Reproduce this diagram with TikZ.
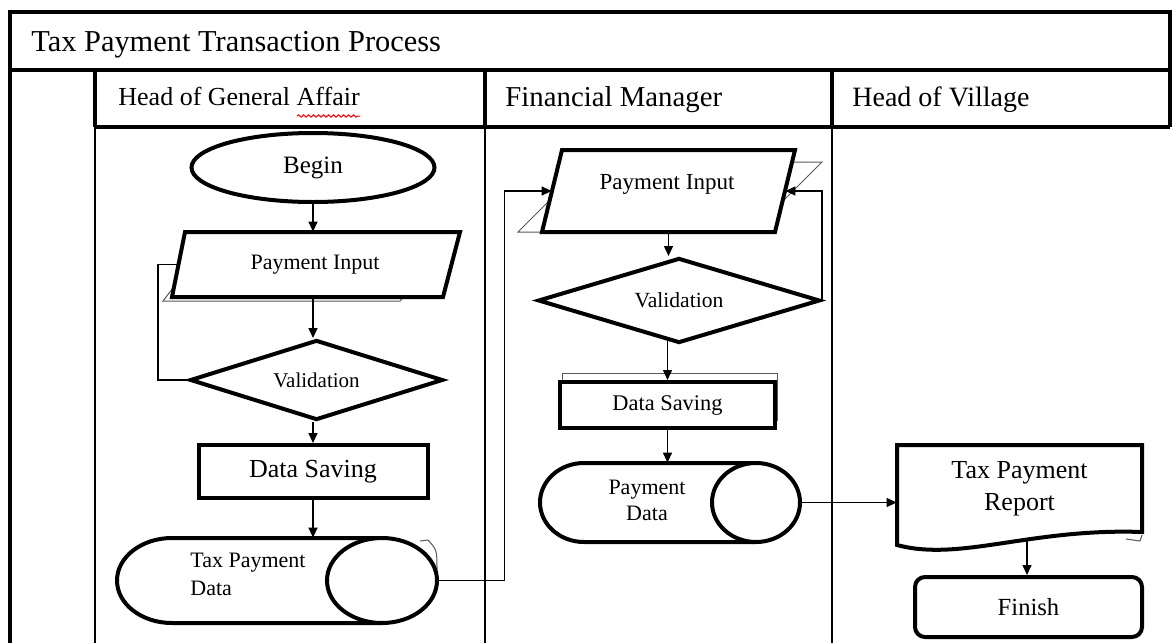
\documentclass[tikz,border=0pt]{standalone}
\usepackage{fontspec}
\setmainfont{Liberation Serif}
\usetikzlibrary{shapes.geometric,arrows.meta,calc,decorations.pathmorphing}
\newcommand{\myfs}[2]{\fontsize{#1}{#2}\selectfont}
\begin{document}
\begin{tikzpicture}[x=0.5pt,y=-0.5pt,
  frameline/.style={line width=2pt},
  laneline/.style={line width=1pt},
  shp/.style={draw=black,line width=2pt,fill=white},
  shadowline/.style={line width=0.5pt,draw=black!65},
  box/.style={inner sep=0pt},
  link/.style={line width=0.75pt},
  arr/.style={link,-{Triangle[length=5pt,width=4.5pt]}},
  txt/.style={inner sep=0pt,anchor=base west}]
\useasboundingbox (0,0) rectangle (1174,643);
\fill[white] (0,0) rectangle (1174,643);

% ---- frame ----
\draw[frameline] (10,12) rectangle (1170,70);
\draw[frameline] (10,70) -- (10,643);
\draw[frameline] (95,70) -- (95,127);
\draw[frameline] (485,70) -- (485,127);
\draw[frameline] (832,70) -- (832,127);
\draw[frameline] (1170,70) -- (1170,127);
\draw[frameline] (95,127) -- (1170,127);
\draw[laneline] (95,127) -- (95,643);
\draw[laneline] (485,127) -- (485,643);
\draw[laneline] (832,127) -- (832,643);

\node[txt,font=\myfs{15.2}{18}] (title) at (31,51) {Tax Payment Transaction Process};
\node[txt,font=\myfs{13}{16}] (h1) at (118,105) {Head of General Affair};
\node[txt,font=\myfs{14.4}{17}] (h2) at (505,106) {Financial Manager};
\node[txt,font=\myfs{14}{17}] (h3) at (852,106) {Head of Village};
\draw[red,line width=0.5pt,decorate,decoration={snake,amplitude=0.6pt,segment length=2.5pt}] (297,116) -- (360,116);

% ---- lane 1: Head of General Affair ----
\node[shp,ellipse,inner sep=0pt,minimum width=121.5pt,minimum height=34.5pt,font=\myfs{12.5}{15}] (b1) at (313,167.5) {Begin};

\draw[shadowline] (215,233) -- (460,233) -- (400,301) -- (163,301) -- cycle;
\filldraw[shp] (185,232) -- (460,232) -- (443,297) -- (172,297) -- cycle;
\node[box,minimum width=136.5pt,minimum height=32.5pt,font=\myfs{11}{13}] (p1) at (315,264.5) {Payment Input};

\node[shp,diamond,aspect=3,inner sep=0pt,minimum width=126.5pt,minimum height=40pt,font=\myfs{10.5}{13}] (v1) at (316.5,380) {Validation};

\node[shp,rectangle,inner sep=0pt,minimum width=114.5pt,minimum height=26.5pt,font=\myfs{13}{15}] (d1) at (313,471.5) {Data Saving};

\draw[shadowline] (420,541) -- (428,540) .. controls (437,550) .. (437,570);
\filldraw[shp] (382,538) -- (172,538) arc[start angle=90,end angle=270,x radius=27.5pt,y radius=21.25pt] -- (382,623);
\draw[shp] (382,580.5) ellipse[x radius=27.5pt,y radius=21.25pt];
\node[box,minimum width=160pt,minimum height=42.5pt] (c1) at (277,580.5) {};
\node[inner sep=0pt,anchor=west,align=left,font=\myfs{11}{14}] (c1t) at (190,574) {Tax Payment\\Data};

% ---- lane 2: Financial Manager ----
\draw[shadowline] (588,162) -- (822,162) -- (752,232) -- (518,232) -- cycle;
\filldraw[shp] (562,150) -- (795,150) -- (775,232) -- (542,232) -- cycle;
\node[box,minimum width=116.5pt,minimum height=41pt] (p2) at (668.5,191) {};
\node[box,font=\myfs{11.5}{14}] (p2t) at (667,184) {Payment Input};

\node[shp,diamond,aspect=3,inner sep=0pt,minimum width=141pt,minimum height=42.5pt,font=\myfs{10.8}{13}] (v2) at (679,300.5) {Validation};

\draw[shadowline] (562,373) rectangle (777,420);
\node[shp,rectangle,inner sep=0pt,minimum width=107.5pt,minimum height=23pt,font=\myfs{11.2}{13}] (d2) at (667.5,405) {Data Saving};

\filldraw[shp] (756,463) -- (584,463) arc[start angle=90,end angle=270,x radius=22pt,y radius=19.75pt] -- (756,542);
\draw[shp] (756,502.5) ellipse[x radius=22pt,y radius=19.75pt];
\node[box,minimum width=130pt,minimum height=39.5pt] (c2) at (670,502.5) {};
\node[box,align=center,font=\myfs{11}{13}] (c2t) at (647,500) {Payment\\Data};

% ---- lane 3: Head of Village ----
\draw[shadowline] (1126,539) -- (1140,541) -- (1142,535);
\filldraw[shp] (897,445) -- (1142,445) -- (1142,532) .. controls (1030,528) and (960,562) .. (897,545) -- cycle;
\node[box,minimum width=122.5pt,minimum height=43.5pt,align=center,font=\myfs{13}{16}] (r1) at (1019.5,488.5) {Tax Payment\\Report};
\coordinate (r1b) at (1027,541);

\node[shp,rounded corners=5pt,inner sep=0pt,minimum width=113.5pt,minimum height=30pt,font=\myfs{12.3}{14}] (f1) at (1028.5,607) {Finish};

% ---- connectors ----
\draw[arr] (b1.south) -- (b1.south |- p1.north);
\draw[arr] (b1.south |- p1.south) -- (b1.south |- v1.north);
\draw[arr] (b1.south |- v1.south) -- (d1.north);
\draw[arr] (d1.south) -- (d1.south |- c1.north);
\draw[link] (v1.west) -- ++(-30,0) |- (p1.west);
\draw[arr] (c1.east) -- ++(67,0) |- (p2.west);

\draw[arr] (p2.south) -- (p2.south |- v2.north);
\draw[arr] ($(d2.north |- v2.south)+(0,-4)$) -- (d2.north);
\draw[arr] (v2.east) |- (p2.east);
\draw[arr] (d2.south) -- (d2.south |- c2.north);
\draw[arr] (c2.east) -- (c2.east -| r1.west);
\draw[arr] (r1b) -- (r1b |- f1.north);
\end{tikzpicture}
\end{document}
